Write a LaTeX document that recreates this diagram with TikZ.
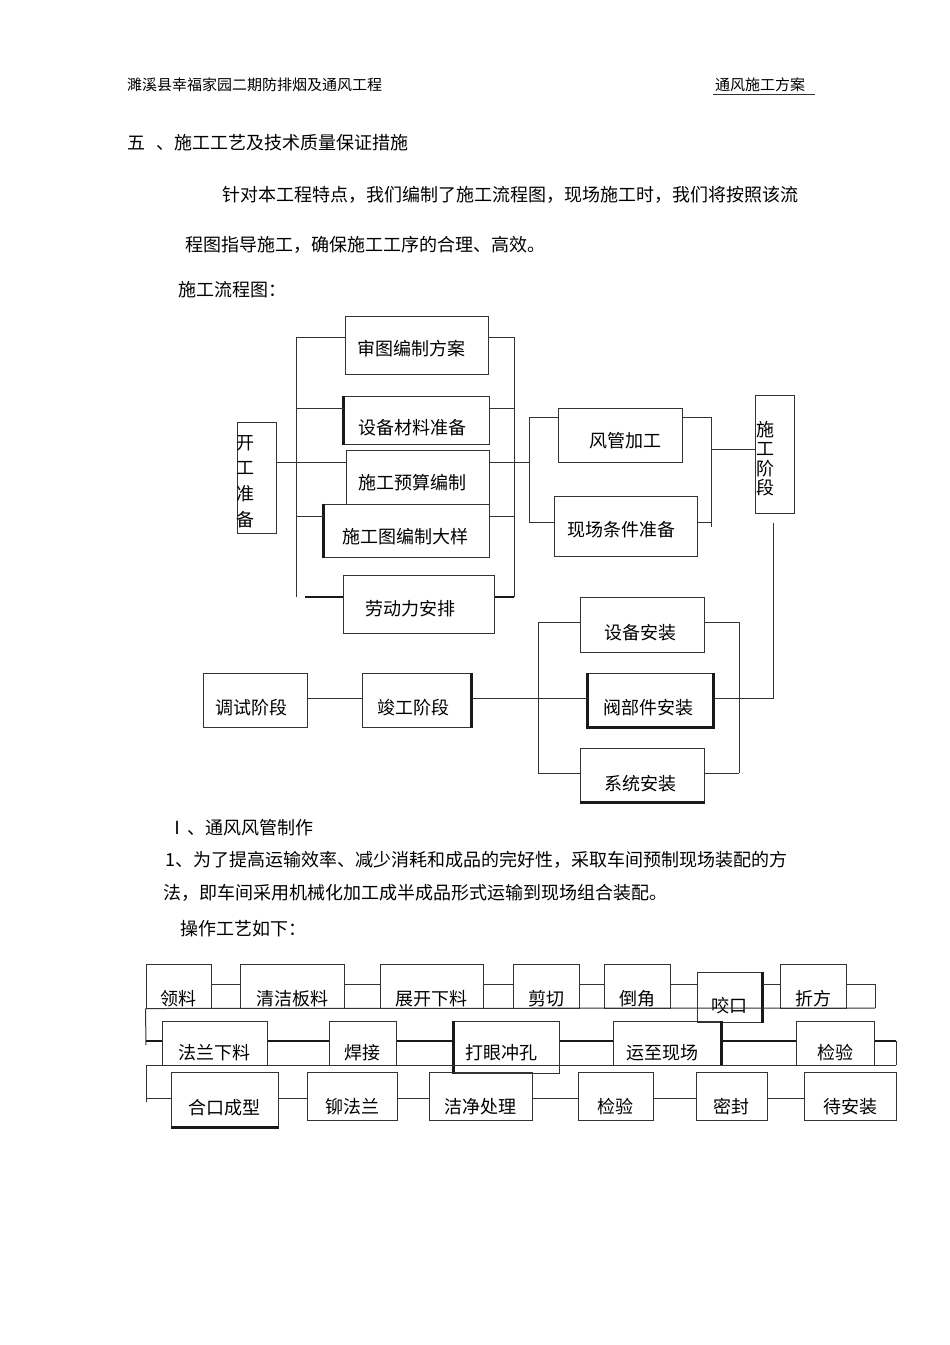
\documentclass[tikz,border=0pt]{standalone}
\usepackage{fontspec}
\setmainfont{Noto Sans CJK SC}
\usetikzlibrary{fit}

\tikzset{
  box/.style={draw=black!80, line width=1pt, inner sep=0pt},
  txt/.style={inner sep=0pt, font=\fontsize{18pt}{20pt}\selectfont},
  para/.style={txt, anchor=west},
  line/.style={draw=black!80, line width=1pt},
  heavy/.style={draw=black!90, line width=2.4pt},
}

\begin{document}
\begin{tikzpicture}[x=1pt, y=-1pt]
\useasboundingbox[fill=white] (0,0) rectangle (950,1345);

% page header
\node[para, font=\fontsize{15pt}{17pt}\selectfont] (headl) at (127,85) {濉溪县幸福家园二期防排烟及通风工程};
\node[para, font=\fontsize{15pt}{17pt}\selectfont] (headr) at (715,85) {通风施工方案};
\draw[line] ([xshift=-2pt,yshift=-2pt]headr.south west) -- ([xshift=10pt,yshift=-2pt]headr.south east);

% text
\node[para] (sec5) at (127,143) {五};
\node[para] (sec5t) at (156,143) {、施工工艺及技术质量保证措施};
\node[para] (intro1) at (222,195) {针对本工程特点，我们编制了施工流程图，现场施工时，我们将按照该流};
\node[para] (intro2) at (185,245) {程图指导施工，确保施工工序的合理、高效。};
\node[para] (flowt) at (178,290) {施工流程图：};

% construction flow chart
\node[box, fit={(237,422)(276,533)}] (kaigong) {};
\node[txt, align=left, anchor=north west, font=\fontsize{18pt}{25.7pt}\selectfont] (kaigongt) at (236,435) {开\\工\\准\\备};
\node[box, fit={(345,316)(488,374)}] (shentu) {};
\node[box, fit={(344,396)(489,444)}] (shebei) {};
\node[box, fit={(346,450)(489,504)}] (yusuan) {};
\node[box, fit={(324,504)(489,557)}] (datu) {};
\node[box, fit={(343,575)(494,633)}] (laodong) {};
\node[box, fit={(558,408)(682,462)}] (fengguan) {};
\node[box, fit={(554,496)(697,556)}] (xianchang) {};
\node[box, fit={(755,395)(794,513)}] (shigong) {};
\node[txt, align=left, anchor=north west, font=\fontsize{18pt}{19.5pt}\selectfont] (shigongt) at (756,421) {施\\工\\阶\\段};
\node[box, fit={(580,597)(704,652)}] (anzhuang) {};
\node[box, fit={(588,673)(713,727)}] (famen) {};
\node[box, fit={(580,748)(704,802)}] (xitong) {};
\node[box, fit={(203,673)(307,727)}] (tiaoshi) {};
\node[box, fit={(362,673)(471,727)}] (jungong) {};

\node[txt] (shentut) at (411,349) {审图编制方案};
\node[txt] (shebeit) at (412,428) {设备材料准备};
\node[txt] (yusuant) at (412,483) {施工预算编制};
\node[txt] (datut) at (405,537) {施工图编制大样};
\node[txt] (laodongt) at (410,609) {劳动力安排};
\node[txt] (fengguant) at (625,441) {风管加工};
\node[txt] (xianchangt) at (621,530) {现场条件准备};
\node[txt] (anzhuangt) at (640,633) {设备安装};
\node[txt] (fament) at (648,708) {阀部件安装};
\node[txt] (xitongt) at (640,784) {系统安装};
\node[txt] (tiaoshit) at (251,708) {调试阶段};
\node[txt] (jungongt) at (413,708) {竣工阶段};

% heavy edges
\draw[heavy] (shebei.north west) -- (shebei.south west);
\draw[heavy] (datu.north west) -- (datu.south west);
\draw[heavy] (famen.north west) -- (famen.south west) -- (famen.south east) -- (famen.north east);
\draw[heavy] (jungong.north east) -- (jungong.south east);
\draw[heavy] (xitong.south west) -- (xitong.south east);

% bracket spines
\coordinate (la) at (296,337);
\coordinate (lb) at (296,597);
\coordinate (ra) at (514,337);
\coordinate (rb) at (514,597);
\coordinate (ma) at (529,417);
\coordinate (mb) at (529,522);
\coordinate (na) at (711,417);
\coordinate (nb) at (711,522);
\coordinate (pa) at (538,622);
\coordinate (pb) at (538,773);
\coordinate (qa) at (739,622);
\coordinate (qb) at (739,773);
\coordinate (sd) at (773,523);

\draw[line] (la) -- (lb);
\draw[line] (la) -- (shentu.west |- la);
\draw[line] (la |- 0,408) -- (shebei.west |- 0,408);
\draw[line] (kaigong.east |- 0,462) -- (yusuan.west |- 0,462);
\draw[line] (la |- 0,516) -- (datu.west |- 0,516);
\draw[heavy] ([xshift=9pt]lb) -- (laodong.west |- lb);

\draw[line] (ra) -- (rb);
\draw[line] (shentu.east |- ra) -- (ra);
\draw[line] (shebei.east |- 0,408) -- (ra |- 0,408);
\draw[line] (yusuan.east |- 0,462) -- (ma |- 0,462);
\draw[line] (datu.east |- 0,516) -- (ra |- 0,516);
\draw[heavy] (laodong.east |- rb) -- (rb);

\draw[line] (ma) -- (mb);
\draw[line] (ma) -- (fengguan.west |- ma);
\draw[line] (mb) -- (xianchang.west |- mb);
\draw[line] (na) -- ([yshift=-5pt]nb);
\draw[line] (fengguan.east |- na) -- (na);
\draw[line] (xianchang.east |- nb) -- (nb);
\draw[line] (na |- 0,449) -- (shigong.west |- 0,449);
\draw[line] (sd) -- (sd |- 0,698) -- (famen.east |- 0,698);

\draw[line] (pa) -- (pb);
\draw[line] (pa) -- (anzhuang.west |- pa);
\draw[line] (pb) -- (xitong.west |- pb);
\draw[line] (qa) -- (qb);
\draw[line] (anzhuang.east |- qa) -- (qa);
\draw[line] (xitong.east |- qb) -- (qb);
\draw[line] (jungong.east |- 0,698) -- (famen.west |- 0,698);
\draw[line] (tiaoshi.east |- 0,698) -- (jungong.west |- 0,698);

% duct making text
\node[para] (sec1) at (168,828) {Ⅰ};
\node[para] (sec1t) at (187,828) {、通风风管制作};
\node[para] (item1a) at (165,860) {1、为了提高运输效率、减少消耗和成品的完好性，采取车间预制现场装配的方};
\node[para] (item1b) at (163,893) {法，即车间采用机械化加工成半成品形式运输到现场组合装配。};
\node[para] (opt) at (180,929) {操作工艺如下：};

% operation flow, row 1
\foreach \n/\xa/\xb/\t in {lingliao/146/211/领料, qingjie/240/344/清洁板料, zhankai/380/483/展开下料,
    jianqie/513/579/剪切, daojiao/604/670/倒角, zhefang/780/846/折方}
  \node[box, fit={(\xa,964)(\xb,1008)}, label={[txt, yshift=-13pt]center:\t}] (\n) {};
\node[box, fit={(697,972)(762,1022)}, label={[txt, yshift=-9pt]center:咬口}] (yaokou) {};
\draw[heavy] (yaokou.north east) -- (yaokou.south east);
\foreach \a/\b in {lingliao/qingjie, qingjie/zhankai, zhankai/jianqie, jianqie/daojiao, daojiao/yaokou, yaokou/zhefang}
  \draw[line] (\a.east |- 0,984) -- (\b.west |- 0,984);
\coordinate (e1) at (875,1008);
\draw[line] (zhefang.east |- 0,984) -- (e1 |- 0,984) -- (e1);
\draw[line] (lingliao.south west) -- (e1);

% row 2
\draw[line] (lingliao.south west) -- (146,1045);
\foreach \n/\xa/\xb/\t in {falan/162/267/法兰下料, hanjie/329/396/焊接, jianyan/796/874/检验}
  \node[box, fit={(\xa,1021)(\xb,1065)}, label={[txt, yshift=-10pt]center:\t}] (\n) {};
\node[box, fit={(454,1021)(559,1073)}, label={[txt, yshift=-6pt, xshift=-5pt]center:打眼冲孔}] (dayan) {};
\node[box, fit={(613,1021)(721,1065)}, label={[txt, yshift=-10pt, xshift=-5pt]center:运至现场}] (yunzhi) {};
\draw[heavy] (dayan.north west) -- (dayan.south west);
\draw[heavy] (yunzhi.north east) -- (yunzhi.south east);
\draw[heavy] (146,1041) -- (falan.west |- 0,1041);
\foreach \a/\b in {falan/hanjie, hanjie/dayan, dayan/yunzhi, yunzhi/jianyan}
  \draw[heavy] (\a.east |- 0,1041) -- (\b.west |- 0,1041);
\coordinate (e2) at (896,1065);
\draw[heavy] (jianyan.east |- 0,1041) -- (e2 |- 0,1041);
\draw[line] (e2 |- 0,1041) -- (e2);
\draw[line] (146,1065) -- (e2);

% row 3
\draw[line] (146,1065) -- (146,1102);
\node[box, fit={(171,1072)(278,1127)}, label={[txt, yshift=-8pt]center:合口成型}] (hekou) {};
\draw[heavy] (hekou.south west) -- (hekou.south east);
\foreach \n/\xa/\xb/\t in {maofa/307/397/铆法兰, jiejing/429/532/洁净处理, jianyanb/578/653/检验,
    mifeng/696/767/密封, daiaz/804/896/待安装}
  \node[box, fit={(\xa,1072)(\xb,1120)}, label={[txt, yshift=-11pt]center:\t}] (\n) {};
\draw[line] (146,1098) -- (hekou.west |- 0,1098);
\foreach \a/\b in {hekou/maofa, maofa/jiejing, jiejing/jianyanb, jianyanb/mifeng, mifeng/daiaz}
  \draw[line] (\a.east |- 0,1098) -- (\b.west |- 0,1098);
\end{tikzpicture}
\end{document}
